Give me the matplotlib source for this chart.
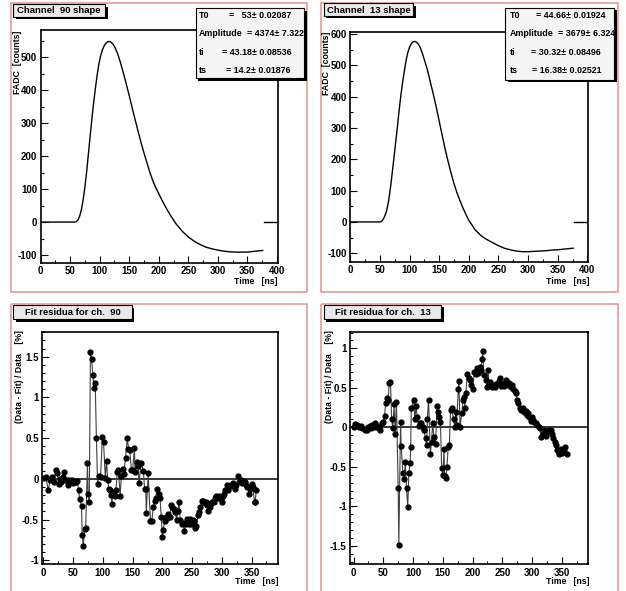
import matplotlib
matplotlib.use('Agg')
import matplotlib.pyplot as plt
from matplotlib.patches import Rectangle
from matplotlib.ticker import MultipleLocator, FuncFormatter
from matplotlib import font_manager

# ---------------- fitted pulse shapes ----------------
ch90_time = [0, 30, 58, 60, 63, 66, 69, 72, 75, 78, 81, 84, 87, 90, 93, 96, 99,
             102, 105, 108, 111, 114, 117, 120, 123, 126, 130, 135, 140, 145, 150,
             155, 160, 165, 170, 175, 180, 185, 190, 195, 200, 205, 210, 215, 220,
             225, 230, 240, 250, 260, 270, 280, 290, 300, 310, 320, 330, 340, 350,
             360, 370, 376]
ch90_adc = [0, 0, 0, 1, 6, 18, 38, 68, 108, 155, 210, 265, 318, 366, 410, 450, 483,
            507, 524, 536, 543, 547, 547, 544, 538, 528, 512, 484, 452, 418, 383,
            346, 310, 275, 241, 209, 180, 150, 125, 104, 86, 68, 51, 35, 20,
            6, -7, -28, -45, -58, -68, -76, -81, -85, -88, -90, -91, -91, -91,
            -89, -87, -86]

ch13_time = [0, 30, 50, 52, 55, 58, 61, 64, 67, 70, 73, 76, 79, 82, 85, 88, 91, 94,
             97, 100, 103, 106, 109, 112, 115, 118, 121, 125, 130, 135, 140, 145,
             150, 155, 160, 165, 170, 175, 180, 185, 190, 195, 200, 205, 210, 220,
             230, 240, 250, 260, 270, 280, 290, 300, 310, 320, 330, 340, 350, 360,
             370, 376]
ch13_adc = [0, 0, 0, 1, 7, 18, 34, 60, 98, 145, 195, 245, 295, 350, 400, 443, 480, 515,
            541, 559, 570, 576, 577, 574, 568, 557, 542, 518, 487, 447, 408, 367,
            322, 277, 233, 193, 156, 122, 93, 68, 45, 24, 5, -9, -24, -43,
            -56, -66, -76, -84, -89, -93, -95, -95, -94, -93, -92, -90, -89, -87,
            -85, -84]

# short piece of the function drawn past the last point
tail_time = [378, 402]
tail_adc = [0, 0]

# ---------------- fit residua [%] ----------------
res90_time = [1, 4, 8, 11, 14, 18, 21, 23, 26, 28, 30, 32, 35, 37, 39, 41, 43, 46, 48,
              50, 54, 57, 59, 61, 64, 65, 67, 69, 71, 74, 75, 77, 79, 81, 83, 85, 87,
              89, 91, 93, 96, 99, 101, 104, 106, 108, 110, 112, 114, 115, 117, 120,
              122, 124, 126, 129, 131, 133, 135, 138, 141, 143, 145, 148, 150, 153,
              154, 157, 159, 161, 164, 168, 170, 172, 173, 176, 180, 182, 185, 187,
              189, 191, 194, 196, 198, 200, 201, 204, 206, 208, 210, 213, 215, 217,
              219, 222, 224, 226, 228, 230, 233, 235, 237, 239, 242, 244, 246, 248,
              251, 253, 255, 257, 260, 262, 264, 266, 268, 271, 273, 275, 277, 280,
              282, 284, 286, 289, 291, 293, 295, 298, 300, 302, 304, 306, 309, 311,
              313, 315, 318, 320, 322, 324, 328, 330, 332, 334, 337, 339, 341, 343,
              346, 348, 350, 352, 355, 356, 358]
res90_val = [0.01, 0.02, -0.14, -0.02, 0.02, -0.04, 0.11, 0.07, -0.06, 0.0, -0.04, 0.02,
             0.08, -0.01, -0.02, -0.08, -0.01, -0.03, -0.02, -0.05, -0.04, -0.03, -0.14,
             -0.25, -0.33, -0.69, -0.82, -0.62, -0.60, 0.19, -0.19, -0.29, 1.56, 1.47,
             1.28, 1.12, 1.18, 0.50, -0.06, 0.04, 0.02, 0.51, 0.45, 0.01, 0.22, -0.01,
             -0.12, -0.14, -0.20, -0.31, -0.16, -0.21, -0.14, 0.08, 0.11, -0.21, 0.04,
             0.12, 0.06, 0.25, 0.50, 0.37, 0.35, 0.11, 0.11, 0.38, 0.08, 0.21, 0.16,
             -0.05, 0.20, 0.10, -0.12, -0.12, -0.42, 0.07, -0.52, -0.52, -0.35, -0.27,
             -0.23, -0.12, -0.19, -0.23, -0.47, -0.71, -0.63, -0.52, -0.47, -0.48,
             -0.43, -0.47, -0.32, -0.34, -0.37, -0.41, -0.51, -0.39, -0.28, -0.51,
             -0.56, -0.54, -0.64, -0.56, -0.49, -0.56, -0.49, -0.56, -0.51, -0.52,
             -0.60, -0.58, -0.45, -0.41, -0.35, -0.27, -0.27, -0.30, -0.28, -0.32,
             -0.39, -0.34, -0.30, -0.28, -0.29, -0.23, -0.21, -0.23, -0.21, -0.25,
             -0.29, -0.21, -0.19, -0.14, -0.07, -0.14, -0.09, -0.07, -0.05, -0.08,
             -0.12, -0.08, 0.03, -0.03, -0.01, -0.05, -0.03, -0.04, -0.07, -0.10,
             -0.19, -0.12, -0.06, -0.10, -0.28, -0.29, -0.14]

res13_time = [0, 2, 5, 9, 12, 15, 19, 22, 24, 27, 29, 31, 33, 36, 38, 40, 42, 45, 48,
              50, 52, 54, 56, 58, 60, 62, 64, 66, 68, 70, 72, 75, 76, 79, 80, 83, 85,
              87, 89, 91, 93, 95, 96, 97, 101, 103, 105, 107, 110, 112, 114, 116, 118,
              121, 123, 124, 126, 129, 131, 133, 135, 138, 140, 142, 144, 146, 148,
              150, 152, 153, 155, 157, 159, 161, 163, 165, 168, 170, 172, 173, 176,
              177, 179, 182, 184, 186, 187, 189, 191, 194, 196, 198, 200, 203, 205,
              207, 209, 212, 214, 216, 217, 219, 222, 224, 226, 228, 230, 233, 235,
              237, 239, 242, 244, 246, 248, 251, 253, 255, 257, 260, 262, 264, 266,
              268, 271, 273, 275, 277, 280, 282, 284, 286, 289, 291, 293, 295, 298,
              300, 302, 304, 306, 309, 311, 313, 315, 318, 320, 322, 324, 327, 329,
              331, 333, 336, 338, 340, 342, 345, 347, 349, 351, 354, 356, 358]
res13_val = [0.01, 0.04, 0.03, 0.01, 0.02, -0.01, -0.03, -0.03, 0.0, 0.02, -0.01, 0.03,
             0.0, 0.05, 0.0, 0.02, -0.01, -0.03, 0.05, 0.07, 0.14, 0.31, 0.37, 0.35,
             0.56, 0.58, 0.11, -0.01, 0.29, -0.08, 0.32, -0.77, -1.49, 0.07, -0.24,
             -0.58, -0.65, -0.44, -0.77, -1.01, -0.58, -0.45, -0.25, 0.24, 0.35, 0.10,
             0.27, 0.13, 0.02, 0.05, 0.06, 0.01, -0.03, -0.14, -0.22, 0.10, 0.35,
             -0.34, -0.18, 0.05, -0.12, -0.21, 0.27, 0.20, 0.13, 0.07, -0.52, -0.60,
             -0.28, -0.62, -0.64, -0.50, -0.25, -0.22, 0.22, 0.24, 0.10, 0.01, 0.20,
             0.03, 0.48, 0.59, 0.01, 0.18, 0.35, 0.39, 0.25, 0.44, 0.68, 0.62, 0.60,
             0.53, 0.49, 0.70, 0.68, 0.75, 0.69, 0.77, 0.73, 0.87, 0.96, 0.66, 0.60,
             0.51, 0.72, 0.54, 0.58, 0.51, 0.54, 0.51, 0.55, 0.56, 0.59, 0.62, 0.52,
             0.55, 0.52, 0.56, 0.60, 0.54, 0.56, 0.51, 0.54, 0.49, 0.46, 0.43, 0.35,
             0.31, 0.24, 0.22, 0.25, 0.20, 0.21, 0.16, 0.18, 0.13, 0.08, 0.13, 0.09,
             0.07, 0.05, 0.03, 0.01, -0.01, -0.12, -0.08, -0.03, -0.08, -0.11, -0.05,
             -0.03, -0.03, -0.08, -0.14, -0.18, -0.22, -0.29, -0.34, -0.30, -0.28,
             -0.32, -0.30, -0.25, -0.34]

# ---------------- fit parameters ----------------
par_names = ['T0', 'Amplitude', 'ti', 'ts']
par90 = ['53', '4374', '43.18', '14.2']
err90 = ['0.02087', '7.322', '0.08536', '0.01876']
par13 = ['44.66', '3679', '30.32', '16.38']
err13 = ['0.01924', '6.324', '0.08496', '0.02521']

installed = {f.name for f in font_manager.fontManager.ttflist}
NARROW = 'Liberation Sans Narrow' if 'Liberation Sans Narrow' in installed else 'Liberation Sans'
plt.rcParams['font.family'] = [NARROW, 'DejaVu Sans']
plt.rcParams['font.weight'] = 'bold'
plt.rcParams['axes.unicode_minus'] = False

W, H = 626, 591
fig = plt.figure(figsize=(W / 100, H / 100), dpi=100)


def px_axes(l, t, r, b):
    return fig.add_axes([l / W, 1 - b / H, (r - l) / W, (b - t) / H])


def style(ax, xlim, ylim, xmaj, xmin, ymaj, ymin):
    ax.set_xlim(*xlim)
    ax.set_ylim(*ylim)
    ax.xaxis.set_major_locator(MultipleLocator(xmaj))
    ax.xaxis.set_minor_locator(MultipleLocator(xmin))
    ax.yaxis.set_major_locator(MultipleLocator(ymaj))
    ax.yaxis.set_minor_locator(MultipleLocator(ymin))
    ax.yaxis.set_major_formatter(FuncFormatter(lambda v, p: '%g' % round(v, 3)))
    ax.xaxis.set_major_formatter(FuncFormatter(lambda v, p: '%g' % round(v, 3)))
    ax.tick_params(which='both', direction='in', top=False, right=False,
                   labelsize=7, pad=2.5, width=0.8)
    ax.tick_params(which='major', length=5)
    ax.tick_params(which='minor', length=2.5)
    for lab in ax.get_xticklabels() + ax.get_yticklabels():
        lab.set_fontweight('bold')
    for sp in ax.spines.values():
        sp.set_linewidth(1.2)


# top row: shapes
ax1 = px_axes(40.7, 30, 278, 263)
ax1.plot(ch90_time, ch90_adc, color='black', lw=1)
ax1.plot(tail_time, tail_adc, color='black', lw=1)
style(ax1, (0, 402), (-124, 582), 50, 25, 100, 50)

ax2 = px_axes(350.3, 32, 588, 262)
ax2.plot(ch13_time, ch13_adc, color='black', lw=1)
ax2.plot(tail_time, tail_adc, color='black', lw=1)
style(ax2, (0, 401), (-128, 607), 50, 25, 100, 50)

# bottom row: residua
ax3 = px_axes(42.3, 332.3, 278.3, 564.3)
ax3.axhline(0, color='black', lw=1.1)
ax3.plot(res90_time, res90_val, '-', color='#404040', lw=0.8)
ax3.plot(res90_time, res90_val, 'o', color='black', ms=3.5)
style(ax3, (-2, 395), (-1.05, 1.8), 50, 25, 0.5, 0.1)

ax4 = px_axes(350.3, 332.3, 588, 564.3)
ax4.axhline(0, color='black', lw=1.1)
ax4.plot(res13_time, res13_val, '-', color='#404040', lw=0.8)
ax4.plot(res13_time, res13_val, 'o', color='black', ms=3.5)
style(ax4, (-5.5, 394), (-1.734, 1.203), 50, 25, 0.5, 0.1)

# overlay in pixel coordinates for pads, titles and stat boxes
ov = fig.add_axes([0, 0, 1, 1], zorder=10)
ov.set_xlim(0, W)
ov.set_ylim(H, 0)
ov.axis('off')

for (x0, y0, x1, y1) in [(11, 3, 307, 292), (321, 3, 618, 292),
                         (11, 304, 307, 596), (321, 304, 618, 596)]:
    ov.add_patch(Rectangle((x0, y0), x1 - x0, y1 - y0, fill=False,
                           ec='#e49a9a', lw=1.2))


def shadow_box(x0, y0, x1, y1, fc):
    ov.add_patch(Rectangle((x0 + 2.5, y0 + 2.5), x1 - x0, y1 - y0, fc='black', ec='none'))
    ov.add_patch(Rectangle((x0, y0), x1 - x0, y1 - y0, fc=fc, ec='black', lw=0.8))


titles = [((13.3, 4, 105, 16.7), 'Channel  90 shape'),
          ((323.7, 3.3, 413, 16), 'Channel  13 shape'),
          ((13.3, 305, 131.7, 319), 'Fit residua for ch.  90'),
          ((323.7, 304.5, 441.3, 319), 'Fit residua for ch.  13')]
for (x0, y0, x1, y1), txt in titles:
    shadow_box(x0, y0, x1, y1, '#e9e9e9')
    ov.text((x0 + x1) / 2, (y0 + y1) / 2 + 0.5, txt, ha='center', va='center',
            fontsize=6.8, weight='bold')

row_y = [15.5, 34, 52.5, 70.5]
stat_boxes = [
    ((195.5, 8.3, 304, 78.3), 199, [291, 304, 292, 291], par90, err90),
    ((505, 7.5, 614, 79.5), 509.7, [606, 615, 601, 601], par13, err13),
]
for (x0, y0, x1, y1), name_x, end_x, pars, errs in stat_boxes:
    shadow_box(x0, y0, x1, y1, '#f4f4f4')
    for i, nm in enumerate(par_names):
        ov.text(name_x, row_y[i], nm, ha='left', va='center', fontsize=6.4, weight='bold')
        ov.text(end_x[i], row_y[i], '= %4s\u00b1 %s' % (pars[i], errs[i]), ha='right',
                va='center', fontsize=6.4, weight='bold')

# axis titles
lab_font = dict(fontsize=6.3, weight='bold', family=['Liberation Sans', 'DejaVu Sans'])
ov.text(18, 31, 'FADC  [counts]', rotation=90, ha='center', va='top', **lab_font)
ov.text(326.5, 32, 'FADC  [counts]', rotation=90, ha='center', va='top', **lab_font)
ov.text(19.5, 330, '(Data - Fit) / Data    [%]', rotation=90, ha='center', va='top', **lab_font)
ov.text(330, 330, '(Data - Fit) / Data    [%]', rotation=90, ha='center', va='top', **lab_font)
ov.text(278, 282, 'Time   [ns]', ha='right', va='center', **lab_font)
ov.text(589, 282, 'Time   [ns]', ha='right', va='center', **lab_font)
ov.text(278.3, 581, 'Time   [ns]', ha='right', va='center', **lab_font)
ov.text(589, 581, 'Time   [ns]', ha='right', va='center', **lab_font)

fig.savefig('out.png', dpi=100)
